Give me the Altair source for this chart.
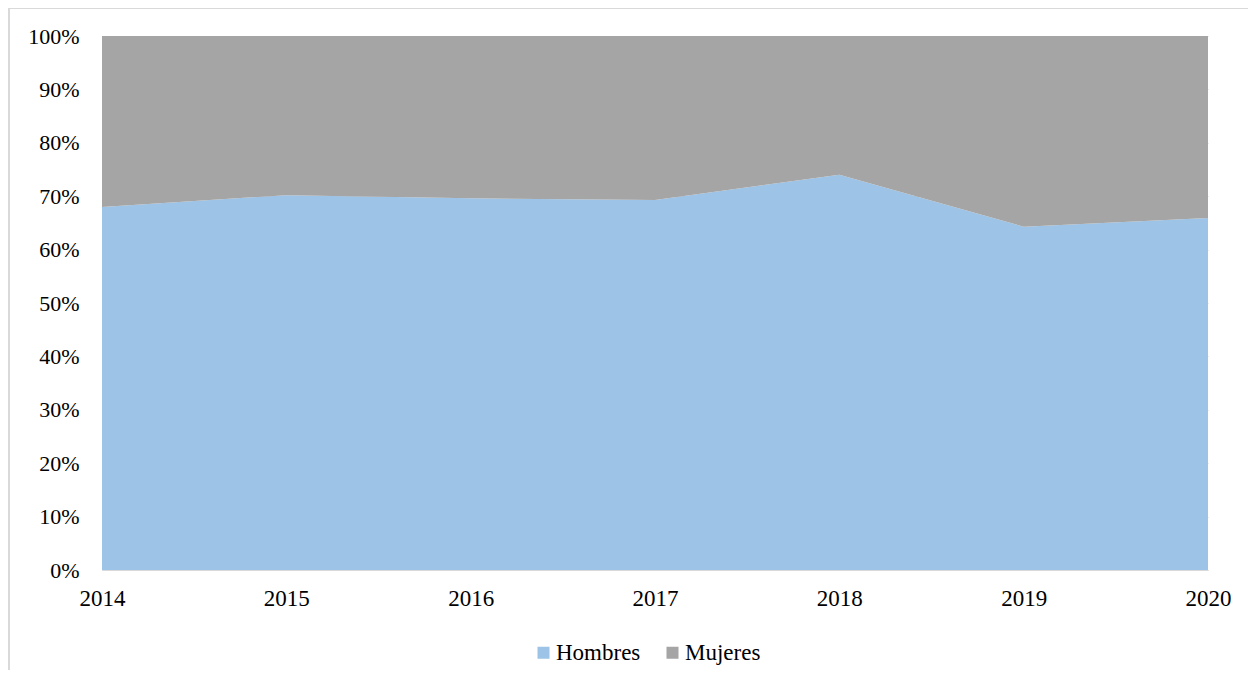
import altair as alt
import pandas as pd

years = [2014, 2015, 2016, 2017, 2018, 2019, 2020]
hombres = [68.0, 70.2, 69.6, 69.3, 74.0, 64.3, 65.9]
mujeres = [100 - h for h in hombres]
series = ["Hombres", "Mujeres"]
colors = ["#9DC3E6", "#A5A5A5"]

rows = []
for y, h, m in zip(years, hombres, mujeres):
    rows.append({"year": y, "serie": "Hombres", "value": h, "ord": 0})
    rows.append({"year": y, "serie": "Mujeres", "value": m, "ord": 1})
df = pd.DataFrame(rows)

FONT = "Liberation Serif"
FS = 23

area = alt.Chart(df).mark_area(opacity=1).encode(
    x=alt.X("year:Q",
            scale=alt.Scale(domain=[2014, 2020], nice=False, zero=False),
            axis=alt.Axis(title=None, format="d", values=years, ticks=False,
                          grid=False, domainColor="#D9D9D9", domainWidth=1,
                          labelPadding=17, labelFontSize=FS, labelFont=FONT,
                          labelColor="#000000", labelFlush=False)),
    y=alt.Y("value:Q", stack="normalize",
            scale=alt.Scale(domain=[0, 1], nice=False),
            axis=alt.Axis(title=None, format=".0%", values=[i / 10 for i in range(11)],
                          ticks=False, domain=False, grid=True, gridColor="#D9D9D9",
                          labelPadding=23, labelFontSize=FS - 1, labelFont=FONT,
                          labelColor="#000000")),
    color=alt.Color("serie:N",
                    scale=alt.Scale(domain=series, range=colors),
                    legend=alt.Legend(title=None, orient="none", direction="horizontal",
                                      legendX=430, legendY=605, symbolType="square",
                                      symbolSize=144, symbolStrokeWidth=0,
                                      symbolOpacity=1,
                                      labelFontSize=FS, labelFont=FONT,
                                      labelColor="#000000", columnPadding=20,
                                      labelOffset=1, padding=0)),
    order=alt.Order("ord:Q"),
)

border_left = alt.Chart(df).mark_rule(color="#D9D9D9", strokeWidth=2).encode(
    x=alt.value(-93), y=alt.value(-28), y2=alt.value(700))
border_top = alt.Chart(df).mark_rule(color="#D9D9D9", strokeWidth=2).encode(
    x=alt.value(-93), x2=alt.value(1200), y=alt.value(-28))

chart = alt.layer(area, border_left, border_top).properties(
    width=1106, height=534,
    padding={"left": 94, "top": 28, "right": 40, "bottom": 100},
    autosize=alt.AutoSizeParams(type="none"),
).configure_view(stroke=None)

chart.save("out.html", embed_options={"renderer": "svg", "actions": False})
